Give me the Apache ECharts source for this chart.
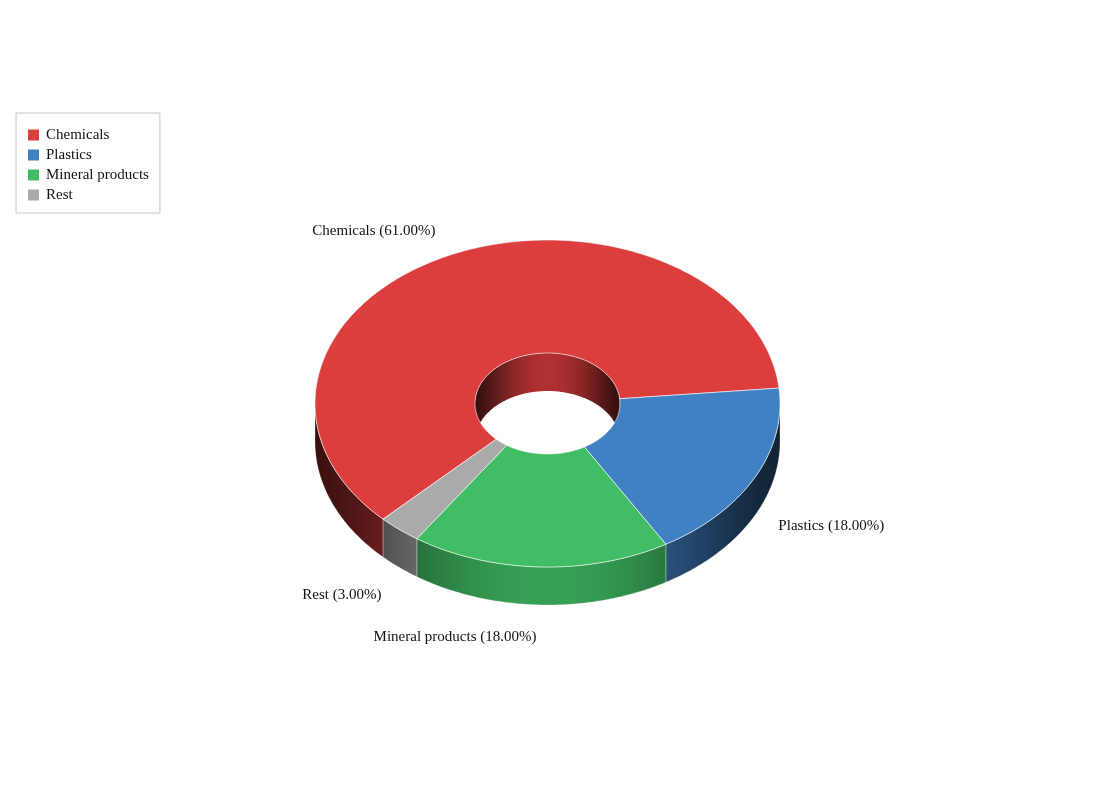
<!DOCTYPE html>
<html>
<head>
<meta charset="utf-8">
<script src="https://cdn.jsdelivr.net/npm/echarts@6/dist/echarts.min.js"></script>
<style>
	html, body { margin: 0; background: #fff; }
	#chart { width: 1095px; height: 805px; }
</style>
</head>
<body>
<div id="chart"></div>
<script>
const categories = [ "Chemicals", "Plastics", "Mineral products", "Rest" ];
const shares = [ 61, 18, 18, 3 ];
const colors = [ "#dc3d3d", "#3f81c2", "#40bd65", "#aaaaaa" ];

/* layout of the tilted donut */
const CX = 547.5, CY = 403.5;
const RX = 232.5, RY = 163.5;
const RXI = 72.5, RYI = 50.5;
const DEPTH = 38;
const START = 135;
const FONT = "15px 'Liberation Serif', 'Times New Roman', serif";

const total = shares.reduce( ( a, b ) => a + b, 0 );
const angles = [ START ];
shares.forEach( v => angles.push( angles[angles.length - 1] + v / total * 360 ) );

/* front half (outer wall visible) and back half (inner wall visible) */
const frontRanges = [], backRanges = [];
for ( let k = -1; k <= 2; k++ ) {
	frontRanges.push( [ 360 * k, 360 * k + 180 ] );
	backRanges.push( [ 360 * k + 180, 360 * k + 360 ] );
}

function clip( s, e, lo, hi ) {
	const a = Math.max( s, lo ), b = Math.min( e, hi );
	return b > a ? [ a, b ] : null;
}

function arc( rx, ry, a0, a1, dy ) {
	const pts = [];
	const n = Math.max( 2, Math.ceil( Math.abs( a1 - a0 ) ) );
	for ( let k = 0; k <= n; k++ ) {
		const a = ( a0 + ( a1 - a0 ) * k / n ) * Math.PI / 180;
		pts.push( [ CX + rx * Math.cos( a ), CY + ry * Math.sin( a ) + dy ] );
	}
	return pts;
}

/* cylinder-like horizontal shading */
function shade( hex, lo, hi, x0, x1 ) {
	const rgb = [ 1, 3, 5 ].map( i => parseInt( hex.substr( i, 2 ), 16 ) );
	const colorStops = [];
	for ( let k = 0; k <= 24; k++ ) {
		const t = k / 24;
		const s = Math.sqrt( Math.max( 0, 1 - Math.pow( 2 * t - 1, 2 ) ) );
		const f = lo + hi * s * s * s;
		colorStops.push( { offset: t, color: `rgb(${ rgb.map( c => Math.round( c * f ) ).join( "," ) })` } );
	}
	return { type: "linear", x: x0, y: 0, x2: x1, y2: 0, global: true, colorStops };
}

function renderSlice( i ) {
	return function ( params, api ) {
		const s = angles[i], e = angles[i + 1];
		const color = colors[i];
		const children = [];

		/* inner wall seen through the hole */
		for ( const [ lo, hi ] of backRanges ) {
			const r = clip( s, e, lo, hi );
			if ( !r ) continue;
			children.push( {
				type: "polygon",
				z2: 1,
				silent: true,
				shape: { points: arc( RXI, RYI, r[0], r[1], 0 ).concat( arc( RXI, RYI, r[1], r[0], DEPTH ) ) },
				style: { fill: shade( color, 0.25, 0.55, CX - RXI, CX + RXI ) }
			} );
		}

		/* outer wall */
		for ( const [ lo, hi ] of frontRanges ) {
			const r = clip( s, e, lo, hi );
			if ( !r ) continue;
			children.push( {
				type: "polygon",
				z2: 2,
				silent: true,
				shape: { points: arc( RX, RY, r[0], r[1], 0 ).concat( arc( RX, RY, r[1], r[0], DEPTH ) ) },
				style: {
					fill: shade( color, 0.27, 0.58, CX - RX, CX + RX ),
					stroke: "rgba(255,255,255,0.35)",
					lineWidth: 0.8
				}
			} );
		}

		/* top face */
		children.push( {
			type: "polygon",
			z2: 3,
			shape: { points: arc( RX, RY, s, e, 0 ).concat( arc( RXI, RYI, e, s, 0 ) ) },
			style: { fill: color, stroke: "rgba(255,255,255,0.6)", lineWidth: 1 }
		} );

		/* outside label */
		const mid = ( s + e ) / 2 * Math.PI / 180;
		const cos = Math.cos( mid ), sin = Math.sin( mid );
		const pct = api.value( 0 ) / total * 100;
		const vertical = Math.abs( sin ) > 0.5;
		children.push( {
			type: "text",
			z2: 4,
			silent: true,
			style: {
				text: `${ categories[i] } (${ pct.toFixed( 2 ) }%)`,
				x: CX + RX * 1.1 * cos + 3 * Math.sign( cos ),
				y: CY + RY * 1.135 * sin + ( sin > 0 ? DEPTH : 0 ) + ( vertical ? 3 : 0 ),
				align: cos >= 0 ? "left" : "right",
				verticalAlign: vertical ? ( sin > 0 ? "top" : "bottom" ) : "middle",
				font: FONT,
				fill: "#111"
			}
		} );

		return { type: "group", children };
	};
}

const chart = echarts.init( document.getElementById( "chart" ), null, { renderer: "canvas" } );

chart.setOption( {
	backgroundColor: "#fff",
	animation: false,
	color: colors,
	legend: {
		orient: "vertical",
		left: 16,
		top: 113,
		padding: [ 14, 11, 10, 12 ],
		itemGap: 4,
		itemWidth: 11,
		itemHeight: 11,
		icon: "rect",
		borderColor: "#c8c8c8",
		borderWidth: 1,
		textStyle: {
			fontFamily: "'Liberation Serif', 'Times New Roman', serif",
			fontSize: 15,
			lineHeight: 16,
			padding: [ 0, 0, 0, 2 ],
			color: "#111"
		},
		data: categories
	},
	series: categories.map( ( name, i ) => ( {
		type: "custom",
		name,
		coordinateSystem: "none",
		itemStyle: { color: colors[i] },
		renderItem: renderSlice( i ),
		data: [ [ shares[i] ] ]
	} ) )
} );
</script>
</body>
</html>
